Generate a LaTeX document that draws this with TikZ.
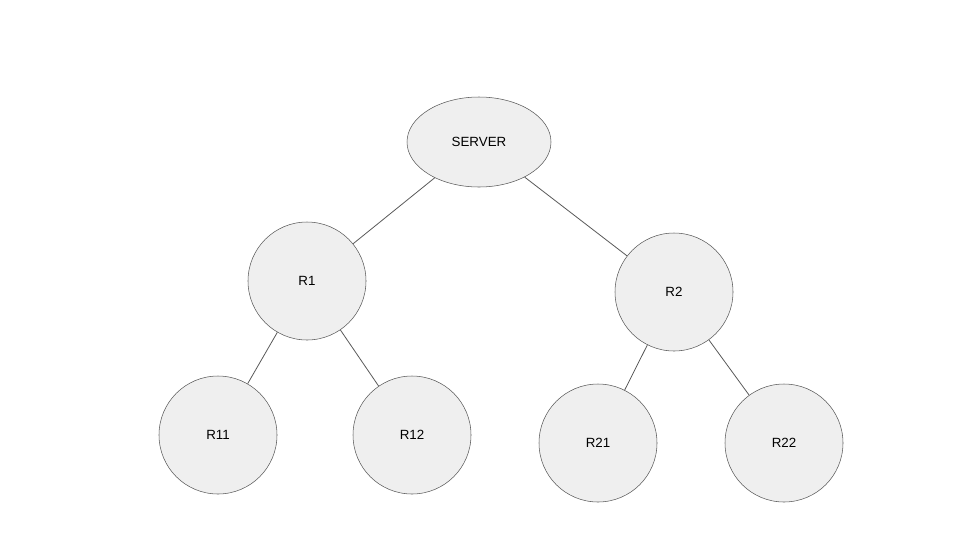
\documentclass[tikz,border=0pt]{standalone}
\usepackage{fontspec}
\setmainfont{Liberation Sans}
\usetikzlibrary{shapes.geometric}
\definecolor{nfill}{HTML}{EFEFEF}
\definecolor{nline}{HTML}{595959}
\begin{document}
\begin{tikzpicture}[x=0.75pt,y=-0.75pt,
  nd/.style={circle,draw=nline,fill=nfill,minimum size=88.5pt,inner sep=0pt,font=\fontsize{10}{12}\selectfont},
  el/.style={ellipse,draw=nline,fill=nfill,minimum width=108pt,minimum height=67.5pt,inner sep=0pt,font=\fontsize{10}{12}\selectfont},
  ed/.style={draw=nline,line width=0.6pt}]
\useasboundingbox (0,0) rectangle (960,540);
\node[el] (s) at (479,142) {SERVER};
\node[nd] (r1) at (307,281) {R1};
\node[nd] (r2) at (674,292) {R2};
\node[nd] (r11) at (218,435) {R11};
\node[nd] (r12) at (412,435) {R12};
\node[nd] (r21) at (598,443) {R21};
\node[nd] (r22) at (784,443) {R22};
\draw[ed] (s) -- (r1);
\draw[ed] (s) -- (r2);
\draw[ed] (r1) -- (r11);
\draw[ed] (r1) -- (r12);
\draw[ed] (r2) -- (r21);
\draw[ed] (r2) -- (r22);
\end{tikzpicture}
\end{document}
